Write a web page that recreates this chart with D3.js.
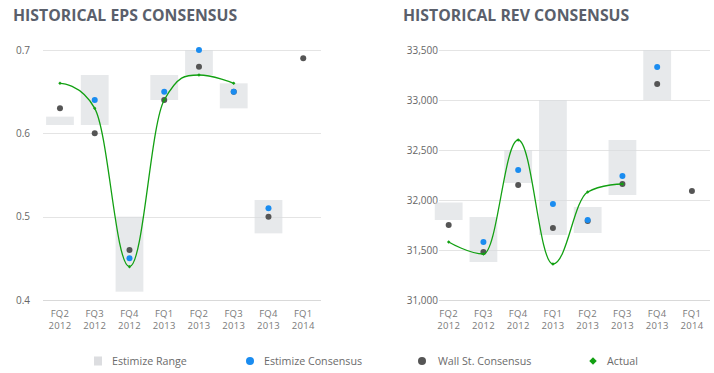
<!DOCTYPE html>
<html>
<head>
<meta charset="utf-8">
<script src="https://cdn.jsdelivr.net/npm/d3@7"></script>
<style>
  body { margin: 0; background: #fff; }
  svg { display: block; font-family: "Open Sans", sans-serif; }
</style>
</head>
<body>
<div id="chart"></div>
<script>
const quarters = ["FQ2 2012", "FQ3 2012", "FQ4 2012", "FQ1 2013", "FQ2 2013", "FQ3 2013", "FQ4 2013", "FQ1 2014"];

// EPS
const epsTicks = [0.4, 0.5, 0.6, 0.7];
const epsRangeLow = [0.61, 0.61, 0.41, 0.64, 0.67, 0.63, 0.48, null];
const epsRangeHigh = [0.62, 0.67, 0.50, 0.67, 0.70, 0.66, 0.52, null];
const epsEstimize = [null, 0.64, 0.45, 0.65, 0.70, 0.65, 0.51, null];
const epsWallSt = [0.63, 0.60, 0.46, 0.64, 0.68, 0.65, 0.50, 0.69];
const epsActual = [0.66, 0.63, 0.44, 0.64, 0.67, 0.66, null, null];

// Revenue
const revTicks = [31000, 31500, 32000, 32500, 33000, 33500];
const revRangeLow = [31800, 31380, 32170, 31650, 31670, 32050, 33000, null];
const revRangeHigh = [31975, 31830, 32500, 33000, 31930, 32600, 33500, null];
const revEstimize = [null, 31580, 32300, 31960, 31800, 32240, 33330, null];
const revWallSt = [31750, 31480, 32150, 31720, 31790, 32160, 33160, 32090];
const revActual = [31580, 31460, 32600, 31360, 32080, 32160, null, null];

const colors = {
  title: "#5a5f6b",
  grid: "#e4e4e4",
  range: "#e7e8ea",
  estimize: "#1a8cf0",
  wallSt: "#555555",
  actual: "#12a012",
  tick: "#666666",
  label: "#7a7a7a"
};

// spline like the original charting lib: control points flattened at local extremes
function SmoothSpline(context) { this._context = context; }
SmoothSpline.prototype = {
  areaStart() {},
  areaEnd() {},
  lineStart() { this._pts = []; },
  point(x, y) { this._pts.push([+x, +y]); },
  lineEnd() {
    const p = this._pts, ctx = this._context, n = p.length;
    if (!n) return;
    ctx.moveTo(p[0][0], p[0][1]);
    const s = 1.5, den = s + 1;
    let prevRight = p[0];
    for (let i = 1; i < n; i++) {
      const [x, y] = p[i];
      let lx = x, ly = y, right = null;
      if (i < n - 1) {
        const [ax, ay] = p[i - 1], [bx, by] = p[i + 1];
        lx = (s * x + ax) / den; ly = (s * y + ay) / den;
        let rx = (s * x + bx) / den, ry = (s * y + by) / den;
        if (rx !== lx) {
          const corr = ((ry - ly) * (rx - x)) / (rx - lx) + y - ry;
          ly += corr; ry += corr;
        }
        if (ly > ay && ly > y) { ly = Math.max(ay, y); ry = 2 * y - ly; }
        else if (ly < ay && ly < y) { ly = Math.min(ay, y); ry = 2 * y - ly; }
        if (ry > by && ry > y) { ry = Math.max(by, y); ly = 2 * y - ry; }
        else if (ry < by && ry < y) { ry = Math.min(by, y); ly = 2 * y - ry; }
        right = [rx, ry];
      }
      ctx.bezierCurveTo(prevRight[0], prevRight[1], lx, ly, x, y);
      prevRight = right || [x, y];
    }
  }
};
const smoothSpline = ctx => new SmoothSpline(ctx);

const width = 714;
const height = 373;

const svg = d3.select("#chart")
  .append("svg")
  .attr("width", width)
  .attr("height", height);

function drawChart(opts) {
  const rows = quarters.map((q, i) => ({
    q: q,
    low: opts.low[i],
    high: opts.high[i],
    est: opts.est[i],
    wall: opts.wall[i],
    act: opts.act[i]
  }));

  const xScale = d3.scaleBand()
    .domain(quarters)
    .range([opts.x0, opts.x0 + 278])
    .padding(0.2)
    .paddingOuter(0.1);

  const yScale = d3.scaleLinear()
    .domain(opts.domain)
    .range([300, 50]);

  const cx = q => xScale(q) + xScale.bandwidth() / 2;

  svg.append("text")
    .attr("x", opts.titleX)
    .attr("y", 21)
    .attr("fill", colors.title)
    .style("font-size", "15.8px")
    .style("font-weight", 700)
    .text(opts.title);

  const g = svg.append("g");

  // grid lines + y labels
  g.selectAll(".grid")
    .data(opts.ticks)
    .enter()
    .append("line")
    .attr("x1", opts.gridX1)
    .attr("x2", opts.gridX2)
    .attr("y1", d => Math.round(yScale(d)) + 0.5)
    .attr("y2", d => Math.round(yScale(d)) + 0.5)
    .attr("stroke", (d, i) => i === 0 ? "#d9d9d9" : colors.grid)
    .attr("stroke-width", 1.2);

  g.selectAll(".ylab")
    .data(opts.ticks)
    .enter()
    .append("text")
    .attr("x", opts.labelX)
    .attr("y", d => yScale(d) + 3.5)
    .attr("text-anchor", "end")
    .attr("fill", colors.tick)
    .style("font-size", "10px")
    .text(opts.format);

  // x labels
  const xl = g.selectAll(".xlab")
    .data(quarters)
    .enter()
    .append("text")
    .attr("x", d => cx(d))
    .attr("text-anchor", "middle")
    .attr("fill", colors.label)
    .style("font-size", "9.5px")
    .style("letter-spacing", "0.3px");
  xl.append("tspan").attr("x", d => cx(d)).attr("y", 317).text(d => d.split(" ")[0]);
  xl.append("tspan").attr("x", d => cx(d)).attr("y", 329).text(d => d.split(" ")[1]);

  // estimize range
  g.selectAll(".range")
    .data(rows.filter(d => d.low != null))
    .enter()
    .append("rect")
    .attr("x", d => xScale(d.q))
    .attr("width", xScale.bandwidth())
    .attr("y", d => yScale(d.high))
    .attr("height", d => yScale(d.low) - yScale(d.high))
    .attr("fill", "#d9dbde")
    .attr("fill-opacity", 0.62);

  g.selectAll(".wall")
    .data(rows.filter(d => d.wall != null))
    .enter()
    .append("circle")
    .attr("cx", d => cx(d.q))
    .attr("cy", d => yScale(d.wall))
    .attr("r", 3)
    .attr("fill", colors.wallSt);

  g.selectAll(".est")
    .data(rows.filter(d => d.est != null))
    .enter()
    .append("circle")
    .attr("cx", d => cx(d.q))
    .attr("cy", d => yScale(d.est))
    .attr("r", 3)
    .attr("fill", colors.estimize);

  const line = d3.line()
    .defined(d => d.act != null)
    .x(d => cx(d.q))
    .y(d => yScale(d.act))
    .curve(smoothSpline);

  g.append("path")
    .datum(rows)
    .attr("d", line)
    .attr("fill", "none")
    .attr("stroke", colors.actual)
    .attr("stroke-width", 1.3);

  g.selectAll(".act")
    .data(rows.filter(d => d.act != null))
    .enter()
    .append("path")
    .attr("d", d3.symbol(d3.symbolSquare, 6))
    .attr("transform", d => `translate(${cx(d.q)},${yScale(d.act)}) rotate(45)`)
    .attr("fill", colors.actual);
}

drawChart({
  title: "HISTORICAL EPS CONSENSUS",
  titleX: 13,
  x0: 42.6,
  gridX1: 43,
  gridX2: 321,
  labelX: 30,
  domain: [0.4, 0.7],
  ticks: epsTicks,
  format: d3.format(".1"),
  low: epsRangeLow,
  high: epsRangeHigh,
  est: epsEstimize,
  wall: epsWallSt,
  act: epsActual
});

drawChart({
  title: "HISTORICAL REV CONSENSUS",
  titleX: 403,
  x0: 431.3,
  gridX1: 439,
  gridX2: 710,
  labelX: 438,
  domain: [31000, 33500],
  ticks: revTicks,
  format: d3.format(","),
  low: revRangeLow,
  high: revRangeHigh,
  est: revEstimize,
  wall: revWallSt,
  act: revActual
});

// legend
const legend = svg.append("g").attr("transform", "translate(0,361)");
const legendItems = [
  { name: "Estimize Range", x: 98, tx: 112, type: "rect", color: "#dcdde0" },
  { name: "Estimize Consensus", x: 250, tx: 264, type: "circle", color: colors.estimize },
  { name: "Wall St. Consensus", x: 422, tx: 438, type: "circle", color: colors.wallSt },
  { name: "Actual", x: 593, tx: 607, type: "diamond", color: colors.actual }
];

legendItems.forEach(item => {
  if (item.type === "rect") {
    legend.append("rect")
      .attr("x", item.x - 4).attr("y", -4.5)
      .attr("width", 8).attr("height", 9)
      .attr("fill", item.color);
  } else if (item.type === "circle") {
    legend.append("circle")
      .attr("cx", item.x).attr("cy", 0).attr("r", 4)
      .attr("fill", item.color);
  } else {
    legend.append("path")
      .attr("d", d3.symbol(d3.symbolSquare, 28))
      .attr("transform", `translate(${item.x},0) rotate(45)`)
      .attr("fill", item.color);
  }
  legend.append("text")
    .attr("x", item.tx)
    .attr("y", 4)
    .attr("fill", "#6b6b6b")
    .style("font-size", "10.7px")
    .text(item.name);
});
</script>
</body>
</html>
